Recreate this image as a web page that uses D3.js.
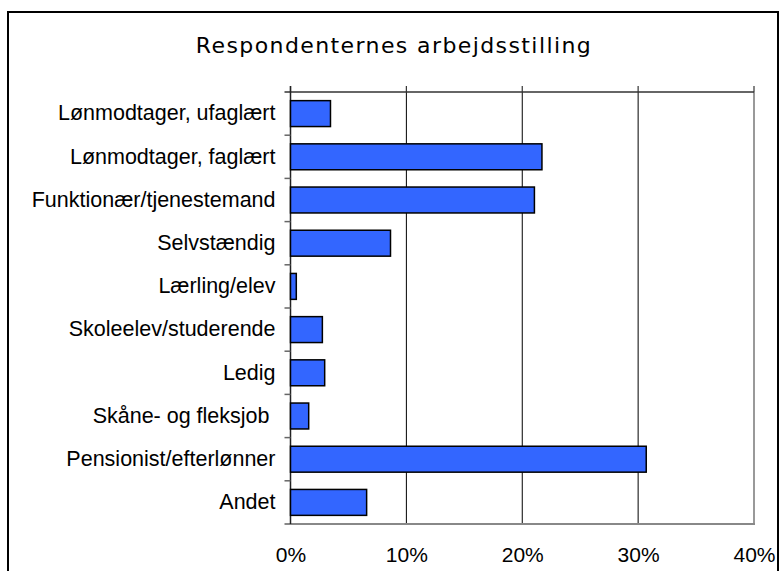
<!DOCTYPE html>
<html>
<head>
<meta charset="utf-8">
<script src="https://cdn.jsdelivr.net/npm/d3@7"></script>
<style>
  body { margin: 0; background: #fff; }
  svg { display: block; }
</style>
</head>
<body>
<svg></svg>
<script>
var width = 779;
var height = 571;

var categories = [
    "Lønmodtager, ufaglært",
    "Lønmodtager, faglært",
    "Funktionær/tjenestemand",
    "Selvstændig",
    "Lærling/elev",
    "Skoleelev/studerende",
    "Ledig",
    "Skåne- og fleksjob ",
    "Pensionist/efterlønner",
    "Andet"
];
var shares = [0.0345, 0.217, 0.2105, 0.0863, 0.005, 0.0275, 0.0295, 0.0157, 0.307, 0.0657];
var xTicks = [0, 0.1, 0.2, 0.3, 0.4];

var plot = { left: 290.5, right: 754, top: 92, bottom: 524 };

var svg = d3.select("svg")
            .attr("width", width)
            .attr("height", height);

// outer frame of the chart
svg.append("rect")
    .attr("x", 8).attr("y", 12)
    .attr("width", 770).attr("height", 620)
    .attr("fill", "#fff")
    .attr("stroke", "#000")
    .attr("stroke-width", 2);

svg.append("text")
    .attr("x", 394).attr("y", 53)
    .attr("text-anchor", "middle")
    .style("font-family", "'DejaVu Sans', Verdana, sans-serif")
    .style("font-size", "22px")
    .style("letter-spacing", "1.4px")
    .style("fill", "#000")
    .text("Respondenternes arbejdsstilling");

var xscale = d3.scaleLinear()
               .domain([0, 0.4])
               .range([plot.left, plot.right]);

var yscale = d3.scaleBand()
               .domain(categories)
               .range([plot.top, plot.bottom])
               .paddingInner(0.4)
               .paddingOuter(0.2);

// vertical gridlines
svg.selectAll("line.grid")
    .data(xTicks.slice(1, 4))
    .enter().append("line")
    .attr("class", "grid")
    .attr("x1", function(d){ return xscale(d); })
    .attr("x2", function(d){ return xscale(d); })
    .attr("y1", plot.top)
    .attr("y2", plot.bottom)
    .attr("stroke", "#000")
    .attr("stroke-width", 1);

// right and bottom border of the plot area (gray)
svg.append("line")
    .attr("x1", plot.right).attr("x2", plot.right)
    .attr("y1", plot.top).attr("y2", plot.bottom)
    .attr("stroke", "#999").attr("stroke-width", 2);
svg.append("line")
    .attr("x1", plot.left - 6).attr("x2", plot.right + 1)
    .attr("y1", plot.bottom).attr("y2", plot.bottom)
    .attr("stroke", "#888").attr("stroke-width", 2);

// top axis line with ticks pointing up
svg.append("line")
    .attr("x1", plot.left - 6).attr("x2", plot.right)
    .attr("y1", plot.top).attr("y2", plot.top)
    .attr("stroke", "#333").attr("stroke-width", 1.5);
svg.selectAll("line.topTick")
    .data(xTicks)
    .enter().append("line")
    .attr("class", "topTick")
    .attr("x1", function(d){ return xscale(d); })
    .attr("x2", function(d){ return xscale(d); })
    .attr("y1", plot.top - 6)
    .attr("y2", plot.top)
    .attr("stroke", "#333").attr("stroke-width", 1.2);

// left axis line and ticks between categories
svg.append("line")
    .attr("x1", plot.left).attr("x2", plot.left)
    .attr("y1", plot.top - 6).attr("y2", plot.bottom)
    .attr("stroke", "#222").attr("stroke-width", 1.5);
var step = yscale.step();
svg.selectAll("line.catTick")
    .data(categories.slice(1))
    .enter().append("line")
    .attr("class", "catTick")
    .attr("x1", plot.left - 6)
    .attr("x2", plot.left)
    .attr("y1", function(d){ return yscale(d) - step * yscale.paddingInner() / 2; })
    .attr("y2", function(d){ return yscale(d) - step * yscale.paddingInner() / 2; })
    .attr("stroke", "#666").attr("stroke-width", 1.5);

// bars
svg.selectAll("rect.bar")
    .data(shares)
    .enter().append("rect")
    .attr("class", "bar")
    .attr("x", xscale(0))
    .attr("y", function(d, i){ return yscale(categories[i]); })
    .attr("width", function(d){ return xscale(d) - xscale(0); })
    .attr("height", yscale.bandwidth())
    .attr("fill", "#3366ff")
    .attr("stroke", "#000")
    .attr("stroke-width", 1.5);

// category labels (keep the trailing space of the source label)
var yaxis = d3.axisLeft(yscale).tickSize(0).tickPadding(15);
svg.append("g")
    .attr("transform", "translate(" + plot.left + ",0)")
    .call(yaxis)
    .call(function(g){ g.select(".domain").remove(); })
    .selectAll("text")
    .style("white-space", "pre")
    .style("font-family", "'Liberation Sans', Arial, sans-serif")
    .style("font-size", "21.5px")
    .style("fill", "#000");

// percent labels
var xaxis = d3.axisBottom(xscale)
              .tickValues(xTicks)
              .tickFormat(d3.format(".0%"))
              .tickSize(0)
              .tickPadding(23);
svg.append("g")
    .attr("transform", "translate(0," + plot.bottom + ")")
    .call(xaxis)
    .call(function(g){ g.select(".domain").remove(); })
    .selectAll("text")
    .style("font-family", "'Liberation Sans', Arial, sans-serif")
    .style("font-size", "21px")
    .style("fill", "#000");
</script>
</body>
</html>
